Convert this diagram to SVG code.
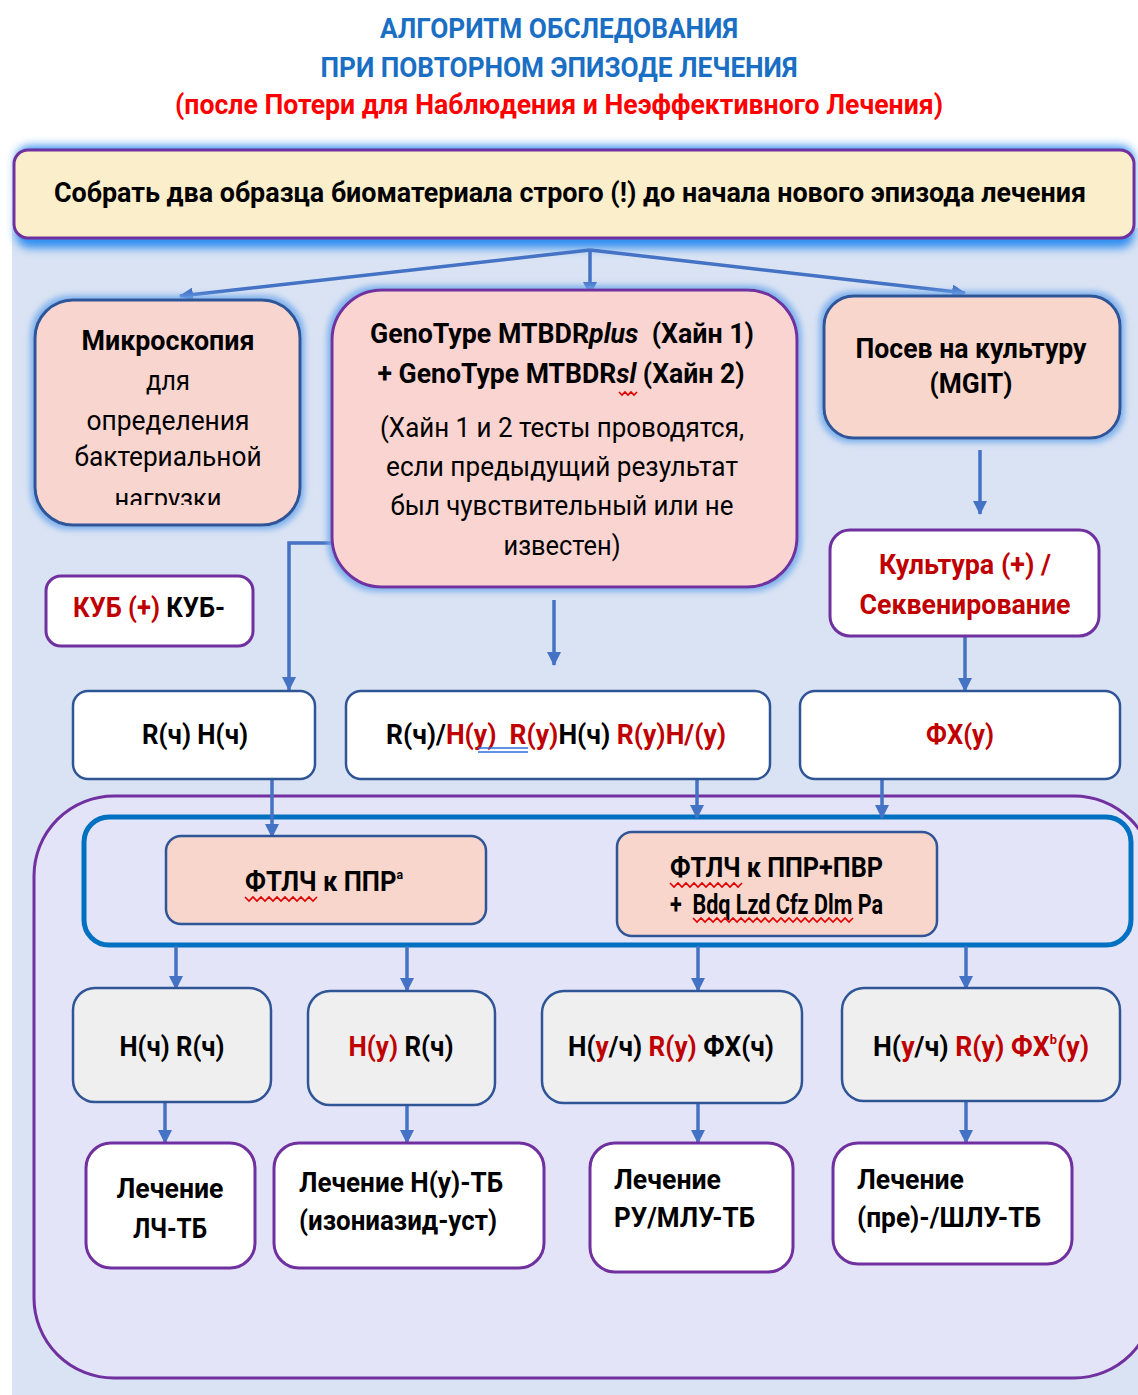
<svg xmlns="http://www.w3.org/2000/svg" width="1138" height="1395" viewBox="0 0 1138 1395">
<style>
.t{font-family:Roboto,'Liberation Sans',sans-serif;font-size:27px;fill:#000}
.b{font-weight:bold}
.i{font-style:italic}
.c{text-anchor:middle}
.pre{white-space:pre}
.red{fill:#c00000}
.conn{stroke:#4472c4;stroke-width:3.5;fill:none}
.wave{stroke:#e00000;stroke-width:1.6;fill:none}
.pinkbox{fill:#f9d5cf;stroke:#2f5597;stroke-width:3}
.whitebox{fill:#fff;stroke:#2f5597;stroke-width:2.5}
.whitep{fill:#fff;stroke:#7030a0;stroke-width:3}
.grey{fill:#efefef;stroke:#2f5597;stroke-width:2.5}
</style>
<defs>
<marker id="ah" markerUnits="userSpaceOnUse" markerWidth="14" markerHeight="14" refX="13" refY="7" orient="auto">
<path d="M0,0 L14,7 L0,14 z" fill="#4472c4"/>
</marker>
<filter id="glow" x="-10%" y="-10%" width="120%" height="120%">
<feMorphology in="SourceAlpha" operator="dilate" radius="3" result="d"/>
<feGaussianBlur in="d" stdDeviation="3" result="bl"/>
<feFlood flood-color="#6fa8ec" flood-opacity="0.9"/>
<feComposite in2="bl" operator="in" result="g"/>
<feMerge><feMergeNode in="g"/><feMergeNode in="SourceGraphic"/></feMerge>
</filter>
<filter id="blur6" x="-5%" y="-40%" width="110%" height="180%"><feGaussianBlur stdDeviation="5"/></filter>
<clipPath id="clipMic"><rect x="35" y="300" width="265" height="205"/></clipPath>
</defs>

<rect x="0" y="0" width="1138" height="1395" fill="#fff"/>
<rect x="12" y="228" width="1126" height="1167" fill="#dae3f3"/>

<g id="title">
<text class="t b c" x="559" y="38" font-size="30" style="fill:#1a6fc4" textLength="358" lengthAdjust="spacingAndGlyphs">АЛГОРИТМ ОБСЛЕДОВАНИЯ</text>
<text class="t b c" x="559" y="77" font-size="30" style="fill:#1a6fc4" textLength="477" lengthAdjust="spacingAndGlyphs">ПРИ ПОВТОРНОМ ЭПИЗОДЕ ЛЕЧЕНИЯ</text>
<text class="t b c" x="559" y="114" font-size="28" style="fill:#ff0000" textLength="768" lengthAdjust="spacingAndGlyphs">(после Потери для Наблюдения и Неэффективного Лечения)</text>
</g>

<g id="top">
<rect x="16" y="146" width="1118" height="102" rx="14" fill="#2d8ef0" filter="url(#blur6)"/>
<rect x="14" y="150" width="1120" height="88" rx="14" fill="#fbeecb" stroke="#7030a0" stroke-width="3"/>
<text class="t b c" x="570" y="202" font-size="26" textLength="1032" lengthAdjust="spacingAndGlyphs">Собрать два образца биоматериала строго (!) до начала нового эпизода лечения</text>
</g>

<g id="container">
<rect x="34" y="796" width="1120" height="582" rx="80" fill="#e4e4f9" stroke="#7030a0" stroke-width="3"/>
<rect x="84" y="817" width="1047" height="128" rx="25" fill="none" stroke="#0070c0" stroke-width="5"/>
</g>

<g id="connectors">
<path class="conn" d="M590,250 L180,296" marker-end="url(#ah)"/>
<path class="conn" d="M590,250 L590,295" marker-end="url(#ah)"/>
<path class="conn" d="M590,250 L965,293" marker-end="url(#ah)"/>
<path class="conn" d="M980,450 L980,514" marker-end="url(#ah)"/>
<path class="conn" d="M332,543 L289,543 L289,690" marker-end="url(#ah)"/>
<path class="conn" d="M554,600 L554,665" marker-end="url(#ah)"/>
<path class="conn" d="M965,636 L965,691" marker-end="url(#ah)"/>
<path class="conn" d="M272,779 L272,837" marker-end="url(#ah)"/>
<path class="conn" d="M697,779 L697,818" marker-end="url(#ah)"/>
<path class="conn" d="M882,779 L882,818" marker-end="url(#ah)"/>
<path class="conn" d="M176,946 L176,989" marker-end="url(#ah)"/>
<path class="conn" d="M407,946 L407,991" marker-end="url(#ah)"/>
<path class="conn" d="M698,946 L698,991" marker-end="url(#ah)"/>
<path class="conn" d="M966,946 L966,989" marker-end="url(#ah)"/>
<path class="conn" d="M165,1102 L165,1143" marker-end="url(#ah)"/>
<path class="conn" d="M407,1105 L407,1143" marker-end="url(#ah)"/>
<path class="conn" d="M698,1103 L698,1143" marker-end="url(#ah)"/>
<path class="conn" d="M966,1101 L966,1143" marker-end="url(#ah)"/>
</g>

<g id="microscopy">
<rect x="35" y="300" width="265" height="225" rx="38" class="pinkbox" filter="url(#glow)"/>
<g clip-path="url(#clipMic)">
<text class="t b c" x="168" y="350" textLength="173" lengthAdjust="spacingAndGlyphs">Микроскопия</text>
<text class="t c" x="168" y="390" textLength="44" lengthAdjust="spacingAndGlyphs">для</text>
<text class="t c" x="168" y="430" textLength="163" lengthAdjust="spacingAndGlyphs">определения</text>
<text class="t c" x="168" y="466" textLength="187" lengthAdjust="spacingAndGlyphs">бактериальной</text>
<text class="t c" x="168" y="508" textLength="107" lengthAdjust="spacingAndGlyphs">нагрузки</text>
</g>
</g>

<g id="genotype">
<rect x="332" y="290" width="465" height="297" rx="50" fill="#fad4d0" stroke="#7030a0" stroke-width="3" filter="url(#glow)"/>
<text class="t b c pre" x="562" y="343" textLength="384" lengthAdjust="spacingAndGlyphs">GenoType MTBDR<tspan class="i">plus</tspan>  (Хайн 1)</text>
<text class="t b c pre" x="561" y="383" textLength="367" lengthAdjust="spacingAndGlyphs">+ GenoType MTBDR<tspan class="i">sl </tspan>(Хайн 2)</text>
<path class="wave" d="M619,392 l3,3 l3,-3 l3,3 l3,-3 l3,3 l3,-3"/>
<text class="t c" x="562" y="437" textLength="364" lengthAdjust="spacingAndGlyphs">(Хайн 1 и 2 тесты проводятся,</text>
<text class="t c" x="562" y="476" textLength="352" lengthAdjust="spacingAndGlyphs">если предыдущий результат</text>
<text class="t c" x="562" y="515" textLength="343" lengthAdjust="spacingAndGlyphs">был чувствительный или не</text>
<text class="t c" x="562" y="555" textLength="117" lengthAdjust="spacingAndGlyphs">известен)</text>
</g>

<g id="culture">
<rect x="824" y="296" width="296" height="142" rx="30" fill="#f9d6cb" stroke="#2f5597" stroke-width="3" filter="url(#glow)"/>
<text class="t b c" x="971" y="358" textLength="231" lengthAdjust="spacingAndGlyphs">Посев на культуру</text>
<text class="t b c" x="971" y="393" textLength="83" lengthAdjust="spacingAndGlyphs">(MGIT)</text>
</g>

<g id="culture-result">
<rect x="830" y="530" width="269" height="106" rx="20" class="whitep"/>
<text class="t b c red" x="965" y="574" textLength="172" lengthAdjust="spacingAndGlyphs">Культура (+) /</text>
<text class="t b c red" x="965" y="614" textLength="211" lengthAdjust="spacingAndGlyphs">Секвенирование</text>
</g>

<g id="kub">
<rect x="46" y="576" width="207" height="70" rx="15" class="whitep"/>
<text class="t b c" x="149" y="617" textLength="152" lengthAdjust="spacingAndGlyphs"><tspan class="red">КУБ (+)</tspan> КУБ-</text>
</g>

<g id="rh-sens">
<rect x="73" y="691" width="242" height="88" rx="15" class="whitebox"/>
<text class="t b c" x="195" y="744" textLength="106" lengthAdjust="spacingAndGlyphs">R(ч) H(ч)</text>
</g>

<g id="rh-mixed">
<rect x="346" y="691" width="424" height="88" rx="15" class="whitebox"/>
<text class="t b c pre" x="556" y="744" textLength="340" lengthAdjust="spacingAndGlyphs">R(ч)/<tspan class="red">H(у)  R(у)</tspan>H(ч) <tspan class="red">R(у)H/(у)</tspan></text>
<path d="M478,748 H528 M478,752 H528" stroke="#2f6fe0" stroke-width="1.5"/>
</g>

<g id="fq-res">
<rect x="800" y="691" width="320" height="88" rx="15" class="whitebox"/>
<text class="t b c red" x="960" y="744" textLength="68" lengthAdjust="spacingAndGlyphs">ФХ(у)</text>
</g>

<g id="dst-first">
<rect x="166" y="836" width="320" height="88" rx="15" fill="#f9d6cb" stroke="#2f5597" stroke-width="2.5"/>
<text class="t b" x="245" y="891" textLength="158" lengthAdjust="spacingAndGlyphs">ФТЛЧ к ППР<tspan font-size="13" dy="-12">a</tspan></text>
<path class="wave" d="M245,897 l4,4 l4,-4 l4,4 l4,-4 l4,4 l4,-4 l4,4 l4,-4 l4,4 l4,-4 l4,4 l4,-4 l4,4 l4,-4 l4,4 l4,-4 l4,4 l4,-4"/>
</g>

<g id="dst-second">
<rect x="617" y="832" width="320" height="104" rx="15" fill="#f9d6cb" stroke="#2f5597" stroke-width="2.5"/>
<text class="t b" x="670" y="877" font-size="26" textLength="213" lengthAdjust="spacingAndGlyphs">ФТЛЧ к ППР+ПВР</text>
<path class="wave" d="M670,883 l4,4 l4,-4 l4,4 l4,-4 l4,4 l4,-4 l4,4 l4,-4 l4,4 l4,-4 l4,4 l4,-4 l4,4 l4,-4 l4,4 l4,-4 l4,4 l4,-4"/>
<text class="t b pre" x="670" y="914" font-size="20" textLength="213" lengthAdjust="spacingAndGlyphs">+  Bdq Lzd Cfz Dlm Pa</text>
<path class="wave" d="M693,918 l4,4 l4,-4 l4,4 l4,-4 l4,4 l4,-4 l4,4 l4,-4 l4,4 l4,-4 l4,4 l4,-4 l4,4 l4,-4 l4,4 l4,-4 l4,4 l4,-4 l4,4 l4,-4 l4,4 l4,-4 l4,4 l4,-4 l4,4 l4,-4 l4,4 l4,-4 l4,4 l4,-4 l4,4 l4,-4 l4,4 l4,-4 l4,4 l4,-4 l4,4 l4,-4 l4,4 l4,-4"/>
</g>

<g id="res-1">
<rect x="73" y="988" width="198" height="114" rx="22" class="grey"/>
<text class="t b c" x="172" y="1056" textLength="105" lengthAdjust="spacingAndGlyphs">H(ч) R(ч)</text>
</g>
<g id="res-2">
<rect x="308" y="991" width="187" height="114" rx="22" class="grey"/>
<text class="t b c" x="401" y="1056" textLength="105" lengthAdjust="spacingAndGlyphs"><tspan class="red">H(у)</tspan> R(ч)</text>
</g>
<g id="res-3">
<rect x="542" y="991" width="260" height="112" rx="22" class="grey"/>
<text class="t b c" x="671" y="1056" textLength="206" lengthAdjust="spacingAndGlyphs">H(<tspan class="red">у</tspan>/ч) <tspan class="red">R(у)</tspan> ФХ(ч)</text>
</g>
<g id="res-4">
<rect x="842" y="988" width="278" height="113" rx="22" class="grey"/>
<text class="t b" x="873" y="1056" textLength="216" lengthAdjust="spacingAndGlyphs">H(<tspan class="red">у</tspan>/ч) <tspan class="red">R(у) ФХ<tspan font-size="13" dy="-12">b</tspan><tspan dy="12">(у)</tspan></tspan></text>
</g>

<g id="tx-1">
<rect x="86" y="1143" width="169" height="125" rx="25" class="whitep"/>
<text class="t b c" x="170" y="1198" textLength="107" lengthAdjust="spacingAndGlyphs">Лечение</text>
<text class="t b c" x="170" y="1238" textLength="74" lengthAdjust="spacingAndGlyphs">ЛЧ-ТБ</text>
</g>
<g id="tx-2">
<rect x="274" y="1143" width="270" height="125" rx="25" class="whitep"/>
<text class="t b" x="299" y="1192" textLength="204" lengthAdjust="spacingAndGlyphs">Лечение H(у)-ТБ</text>
<text class="t b" x="299" y="1230" textLength="198" lengthAdjust="spacingAndGlyphs">(изониазид-уст)</text>
</g>
<g id="tx-3">
<rect x="590" y="1143" width="203" height="129" rx="25" class="whitep"/>
<text class="t b" x="614" y="1189" textLength="107" lengthAdjust="spacingAndGlyphs">Лечение</text>
<text class="t b" x="614" y="1227" textLength="141" lengthAdjust="spacingAndGlyphs">РУ/МЛУ-ТБ</text>
</g>
<g id="tx-4">
<rect x="833" y="1143" width="239" height="121" rx="25" class="whitep"/>
<text class="t b" x="857" y="1189" textLength="107" lengthAdjust="spacingAndGlyphs">Лечение</text>
<text class="t b" x="857" y="1227" textLength="184" lengthAdjust="spacingAndGlyphs">(пре)-/ШЛУ-ТБ</text>
</g>
</svg>
